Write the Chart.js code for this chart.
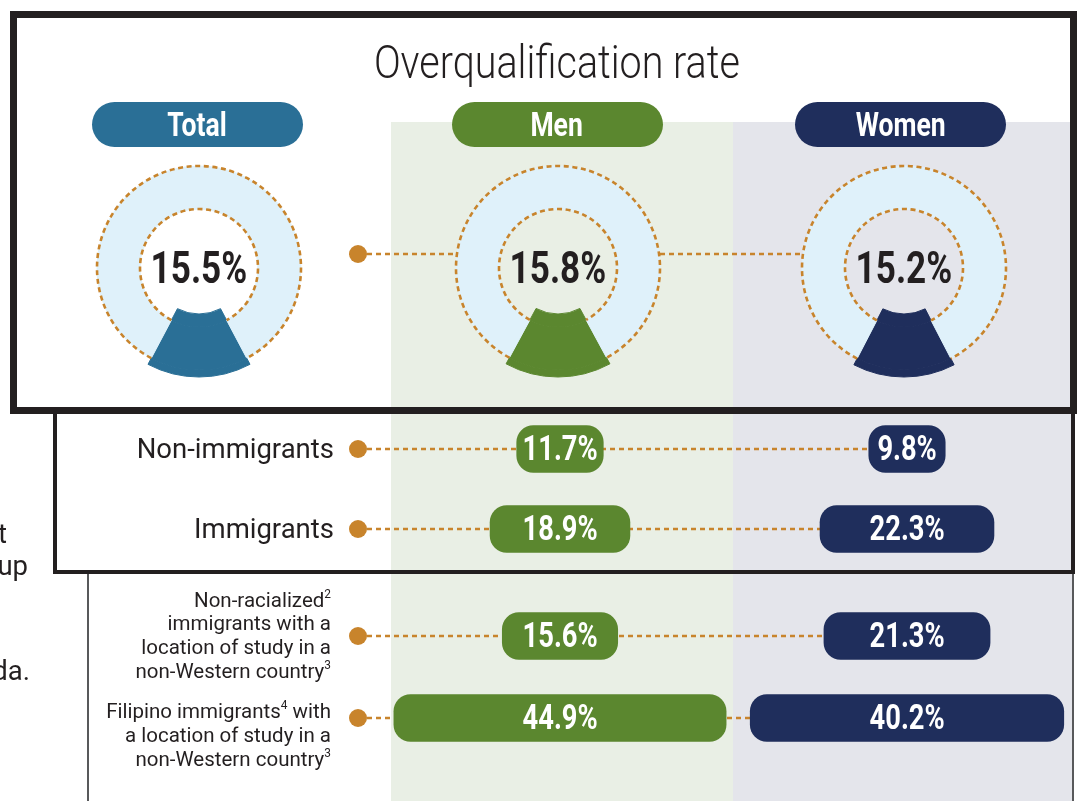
<!DOCTYPE html>
<html><head><meta charset="utf-8"><title>Overqualification rate</title>
<script src="https://cdn.jsdelivr.net/npm/chart.js@4.4.1/dist/chart.umd.min.js"></script>
<style>
html,body{margin:0;padding:0;background:#fff}
body{width:1082px;height:801px;position:relative;overflow:hidden;font-family:Roboto,"Noto Sans",Arial,sans-serif;color:#231f20}
.abs{position:absolute}
canvas{display:block}
.bgM{left:391px;top:122px;width:342px;height:679px;background:#e9efe5}
.bgW{left:733px;top:122px;width:339px;height:679px;background:#e4e5eb}
.vline{width:2px;background:#58595b}
.frame1{left:10px;top:11px;width:1067px;height:403px;border:7px solid #231f20;box-sizing:border-box}
.frame2{left:53px;top:410px;width:1022px;height:164px;border:4px solid #231f20;box-sizing:border-box}
.cond{font-family:Roboto,"Noto Sans",sans-serif;white-space:nowrap}
.sxB{display:inline-block;transform:scaleX(var(--sxB));transform-origin:center}
.sxT{display:inline-block;transform:scaleX(var(--sxT));transform-origin:center}
.lbl{white-space:nowrap;text-align:right}
.lbl sup{font-size:0.58em;vertical-align:0.75em;line-height:0}
</style></head>
<body>
<div class="abs bgM"></div>
<div class="abs bgW"></div>
<div class="abs vline" style="left:87px;top:574px;height:227px"></div>
<div class="abs vline" style="left:1072px;top:574px;height:227px;width:1.5px"></div>
<svg class="abs" id="connector" style="left:0;top:0" width="1082" height="801"></svg>
<canvas class="abs" id="donut0" width="240" height="240"></canvas>
<canvas class="abs" id="donut1" width="240" height="240"></canvas>
<canvas class="abs" id="donut2" width="240" height="240"></canvas>
<canvas class="abs" id="rows0"></canvas>
<canvas class="abs" id="rows1"></canvas>
<div class="abs frame1"></div>
<div class="abs frame2"></div>
<div id="overlay"></div>
<script>
// ---------------- DATA ----------------
const groups = ['Total', 'Men', 'Women'];
const overallRate = [15.5, 15.8, 15.2];
const categories = [
  ['Non-immigrants'],
  ['Immigrants'],
  ['Non-racialized²', 'immigrants with a', 'location of study in a', 'non-Western country³'],
  ['Filipino immigrants⁴ with', 'a location of study in a', 'non-Western country³']
];
const menRate = [11.7, 18.9, 15.6, 44.9];
const womenRate = [9.8, 22.3, 21.3, 40.2];
const titleText = 'Overqualification rate';
const cutText = [['t', 7, 533.5], ['up', 28, 565.5], ['da.', 30, 670.5]];

// ---------------- STYLE / LAYOUT ----------------
const C = {total:'#2a6f96', men:'#5b872f', women:'#1f2e5c', ring:'#dff1fa', orange:'#c8842c', ink:'#231f20'};
const groupColors = [C.total, C.men, C.women];
const DONUT_C = [[199,268],[558,268],[904,268]];
const DONUT_OUT = 109, DONUT_IN = 46, RING_OUT = 102, RING_IN = 59;
const HEADER_X = [197.5, 557, 900.5], HEADER_Y = 124.5, HEADER_W = 211, HEADER_H = 45;
const ROWS_LEFT = 340, ROWS_W = 732;
const PILL_CX = {men:560, women:907};
const PX_PER_PCT = {men:7.4, women:7.8};
const ROW_GROUPS = [{idx:[0,1], top:409, height:160}, {idx:[2,3], top:595, height:164}];
const LABEL_SHIFT = [0, 0, 0, 18];
const DOT_X = 358, DOT_R = 9;
const TITLE_W = 366, TITLE_SIZE = 47;

// condensed look: Roboto scaled horizontally
const mctx = document.createElement('canvas').getContext('2d');
mctx.font = '300 ' + TITLE_SIZE + 'px Roboto';
const sxT = TITLE_W / mctx.measureText(titleText).width;
const sxB = 0.78;
document.body.style.setProperty('--sxB', sxB);
document.body.style.setProperty('--sxT', sxT);

const overlay = document.getElementById('overlay');
function textAt(cx, cy, html, opts){
  const H = opts.h || 60, W = opts.w || 600;
  const d = document.createElement('div');
  d.className = 'abs cond';
  Object.assign(d.style, {left:(cx - W/2)+'px', top:(cy - H/2)+'px', width:W+'px', height:H+'px',
    lineHeight:H+'px', textAlign:'center', fontSize:opts.size+'px', fontWeight:opts.weight||'bold',
    color:opts.color||C.ink});
  d.innerHTML = '<span class="' + (opts.sx||'sxB') + '">' + html + '</span>';
  overlay.appendChild(d);
  return d;
}
const fmt = v => v.toFixed(1) + '%';
const supify = s => s.replace(/[²³⁴]/g, ch => '<sup>' + ({'²':2,'³':3,'⁴':4})[ch] + '</sup>');

// title
textAt(557, 62, titleText, {size:TITLE_SIZE, weight:'300', sx:'sxT', w:900});

// header pills
groups.forEach((g, i) => {
  const d = document.createElement('div');
  d.className = 'abs cond';
  Object.assign(d.style, {left:(HEADER_X[i]-HEADER_W/2)+'px', top:(HEADER_Y-HEADER_H/2)+'px', width:HEADER_W+'px',
    height:HEADER_H+'px', borderRadius:(HEADER_H/2)+'px', background:groupColors[i], color:'#fff',
    textAlign:'center', lineHeight:HEADER_H+'px', fontSize:'34px', fontWeight:'bold'});
  d.innerHTML = '<span class="sxB">' + g + '</span>';
  overlay.appendChild(d);
});

// cut-off text at left edge
cutText.forEach(([t, right, cy]) => {
  const d = document.createElement('div');
  d.className = 'abs lbl';
  Object.assign(d.style, {left:(right-300)+'px', width:'300px', top:(cy-20)+'px', height:'40px', lineHeight:'40px', fontSize:'27.5px'});
  d.textContent = t;
  overlay.appendChild(d);
});

// ---------------- DONUTS ----------------
const donutDecor = {
  id:'donutDecor',
  afterDatasetsDraw(chart){
    const arc = chart.getDatasetMeta(1).data[1];
    const p = arc.getProps(['x','y','startAngle','endAngle','innerRadius','outerRadius'], true);
    const ctx = chart.ctx;
    ctx.save();
    ctx.setLineDash([5, 3.6]);
    ctx.lineWidth = 2.6;
    ctx.strokeStyle = C.orange;
    [p.innerRadius, p.outerRadius].forEach(r => {
      ctx.beginPath(); ctx.arc(p.x, p.y, r, p.startAngle, p.endAngle); ctx.stroke();
    });
    ctx.restore();
  }
};
const T = 'rgba(0,0,0,0)';
overallRate.forEach((v, i) => {
  const cv = document.getElementById('donut' + i);
  cv.style.left = (DONUT_C[i][0] - 120) + 'px';
  cv.style.top = (DONUT_C[i][1] - 120) + 'px';
  const col = groupColors[i];
  const ring = (bg, w) => ({data:[v, 100 - v], backgroundColor:[col, bg], borderColor:[col, bg], borderWidth:1, weight:w});
  new Chart(cv, {
    type:'doughnut',
    data:{labels:['Overqualified','Not overqualified'], datasets:[
      ring(T, DONUT_OUT - RING_OUT),
      ring(C.ring, RING_OUT - RING_IN),
      ring(T, RING_IN - DONUT_IN)
    ]},
    options:{responsive:false, animation:false, events:[],
      radius:DONUT_OUT, cutout:(DONUT_IN/DONUT_OUT*100)+'%', rotation:180 - v*1.8,
      layout:{padding:0},
      plugins:{legend:{display:false}, tooltip:{enabled:false}}},
    plugins:[donutDecor]
  });
  textAt(DONUT_C[i][0], DONUT_C[i][1], fmt(v), {size:45});
});

// connector between donuts
(function(){
  const svg = document.getElementById('connector');
  const y = 254;
  const segs = [[DOT_X, DONUT_C[1][0]-RING_OUT], [DONUT_C[1][0]+RING_OUT, DONUT_C[2][0]-RING_OUT]];
  let s = '';
  segs.forEach(([a,b]) => { s += '<line x1="'+a+'" y1="'+y+'" x2="'+b+'" y2="'+y+'" stroke="'+C.orange+'" stroke-width="2.5" stroke-dasharray="5 4"/>'; });
  s += '<circle cx="'+DOT_X+'" cy="'+y+'" r="'+DOT_R+'" fill="'+C.orange+'"/>';
  svg.innerHTML = s;
})();

// ---------------- PILL ROWS ----------------
function rowDecor(idx){
  return {
    id:'rowDecor',
    beforeDatasetsDraw(chart){
      const {ctx} = chart, y = chart.scales.y, xw = chart.scales.xw;
      ctx.save();
      idx.forEach((k, i) => {
        const py = y.getPixelForValue(i);
        const x0 = DOT_X - ROWS_LEFT;
        const x1 = xw.getPixelForValue(-womenRate[k]/2);
        ctx.setLineDash([5, 4]); ctx.lineWidth = 2.5; ctx.strokeStyle = C.orange;
        ctx.beginPath(); ctx.moveTo(x0, py); ctx.lineTo(x1, py); ctx.stroke();
        ctx.setLineDash([]); ctx.fillStyle = C.orange;
        ctx.beginPath(); ctx.arc(x0, py, DOT_R, 0, Math.PI*2); ctx.fill();
      });
      ctx.restore();
    }
  };
}
ROW_GROUPS.forEach((g, gi) => {
  const cv = document.getElementById('rows' + gi);
  cv.width = ROWS_W; cv.height = g.height;
  cv.style.left = ROWS_LEFT + 'px'; cv.style.top = g.top + 'px';
  const men = g.idx.map(k => menRate[k]);
  const women = g.idx.map(k => womenRate[k]);
  const mZero = PILL_CX.men - ROWS_LEFT, wZero = PILL_CX.women - ROWS_LEFT;
  const pill = {borderRadius:17, borderSkipped:false, barThickness:47, grouped:false, borderWidth:0};
  const chart = new Chart(cv, {
    type:'bar',
    data:{labels:g.idx.map(k => categories[k].join(' ')), datasets:[
      Object.assign({label:'Men', data:men.map(v => [-v/2, v/2]), xAxisID:'xm', backgroundColor:C.men}, pill),
      Object.assign({label:'Women', data:women.map(v => [-v/2, v/2]), xAxisID:'xw', backgroundColor:C.women}, pill)
    ]},
    options:{indexAxis:'y', responsive:false, animation:false, events:[], layout:{padding:0},
      scales:{
        y:{type:'category', display:false, offset:true},
        xm:{type:'linear', axis:'x', display:false, min:-mZero/PX_PER_PCT.men, max:(ROWS_W - mZero)/PX_PER_PCT.men},
        xw:{type:'linear', axis:'x', display:false, min:-wZero/PX_PER_PCT.women, max:(ROWS_W - wZero)/PX_PER_PCT.women}
      },
      plugins:{legend:{display:false}, tooltip:{enabled:false}}},
    plugins:[rowDecor(g.idx)]
  });
  g.idx.forEach((k, i) => {
    const py = g.top + chart.scales.y.getPixelForValue(i);
    textAt(ROWS_LEFT + chart.scales.xm.getPixelForValue(0), py, fmt(menRate[k]), {size:35, color:'#fff', h:48, w:300});
    textAt(ROWS_LEFT + chart.scales.xw.getPixelForValue(0), py, fmt(womenRate[k]), {size:35, color:'#fff', h:48, w:300});
    // category label
    const lines = categories[k];
    const multi = lines.length > 1;
    const fs = multi ? 20.5 : 27.5, lh = multi ? 23.7 : 34;
    const d = document.createElement('div');
    d.className = 'abs lbl';
    const right = multi ? 331 : 334;
    const h = lh * lines.length;
    Object.assign(d.style, {left:(right - 320)+'px', width:'320px', top:(py + LABEL_SHIFT[k] - h/2)+'px',
      fontSize:fs+'px', lineHeight:lh+'px', color:C.ink});
    d.innerHTML = lines.map(supify).join('<br>');
    overlay.appendChild(d);
  });
});
</script>
</body></html>
